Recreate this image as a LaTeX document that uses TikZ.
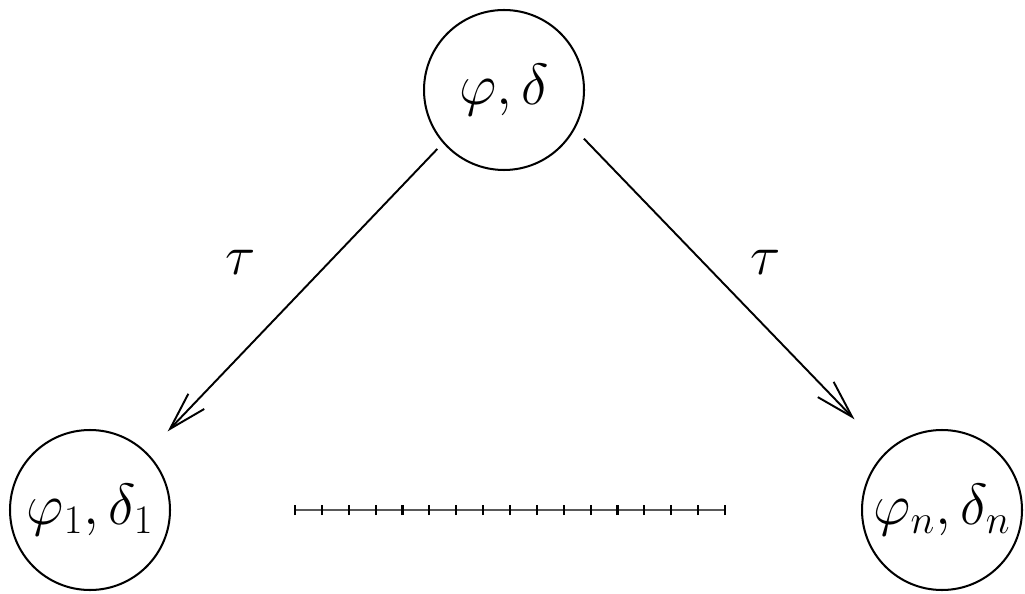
\RequirePackage{fix-cm}
\documentclass[tikz,border=0pt]{standalone}
\usepackage{amsmath,amssymb}
\usepackage{tikz}
\usetikzlibrary{arrows.meta}

\tikzset{
  state/.style={circle,draw,line width=1.15pt,minimum size=3.2cm,inner sep=0pt,
    font=\fontsize{33}{40}\selectfont},
  lbl/.style={font=\fontsize{32}{38}\selectfont},
  trans/.style={line width=1.1pt,-{Straight Barb[length=0.76cm,width=0.44cm]}}
}

\begin{document}
\begin{tikzpicture}
  \useasboundingbox (0,0) rectangle (20.5,11.86);
  \node[state] (root) at (10.08,10.06) {$\varphi,\delta$};
  \node[state] (first) at (1.8,1.66) {$\varphi_1,\delta_1$};
  \node[state] (last) at (18.84,1.66) {$\varphi_n,\delta_n$};
  \draw[trans,shorten <=0.16cm,shorten >=0.59cm] (root.221)--(first.45);
  \draw[trans,shorten <=0.26cm,shorten >=0.9cm] (root.331)--(last.134);
  \node[lbl] (tl) at (4.82,6.62) {$\tau$};
  \node[lbl] (tr) at (15.32,6.62) {$\tau$};
  % dotted row of states
  \draw[gray!70!black,line width=0.6pt] (5.9,1.66)--(14.5,1.66);
  \foreach \i in {0,...,16}
    \draw[line width=1.2pt] ({5.9+0.5375*\i},1.56)--++(0,0.2);
\end{tikzpicture}
\end{document}
